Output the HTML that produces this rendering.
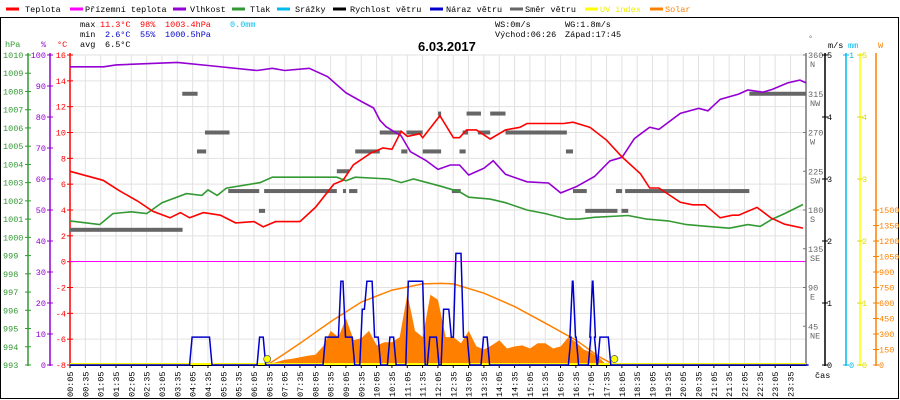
<!DOCTYPE html>
<html><head><meta charset="utf-8"><style>
html,body{margin:0;padding:0;background:#fff;}
svg{display:block;font-family:"Liberation Mono",monospace;font-size:8.5px;}
</style></head><body>
<svg id="c" width="900" height="400" viewBox="0 0 900 400">
<rect x="0.5" y="17.5" width="898" height="381" fill="none" stroke="#000"/>
<g id="grid"></g>
<g id="legend">
 <g><line x1="6" y1="9" x2="19" y2="9" stroke="#f00" stroke-width="3"/><text x="25" y="12">Teplota</text></g>
 <g><line x1="70" y1="9" x2="83" y2="9" stroke="#f0f" stroke-width="3"/><text x="85" y="12">Přízemní teplota</text></g>
 <g><line x1="173" y1="9" x2="186" y2="9" stroke="#9400d3" stroke-width="3"/><text x="190" y="12">Vlhkost</text></g>
 <g><line x1="232" y1="9" x2="245" y2="9" stroke="#339933" stroke-width="3"/><text x="250" y="12">Tlak</text></g>
 <g><line x1="277" y1="9" x2="290" y2="9" stroke="#00bbee" stroke-width="3"/><text x="295" y="12">Srážky</text></g>
 <g><line x1="333" y1="9" x2="346" y2="9" stroke="#000" stroke-width="3"/><text x="350" y="12">Rychlost větru</text></g>
 <g><line x1="430" y1="9" x2="443" y2="9" stroke="#0000cc" stroke-width="3"/><text x="446" y="12">Náraz větru</text></g>
 <g><line x1="510" y1="9" x2="523" y2="9" stroke="#666" stroke-width="3"/><text x="525" y="12">Směr větru</text></g>
 <g><line x1="585" y1="9" x2="598" y2="9" stroke="#ff0" stroke-width="3"/><text x="600" y="12" fill="#ee0">UV index</text></g>
 <g><line x1="650" y1="9" x2="663" y2="9" stroke="#ff8000" stroke-width="3"/><text x="665" y="12" fill="#ff8000">Solar</text></g>
</g>
<g>
 <text x="80" y="27">max</text><text x="100" y="27" fill="#f00">11.3°C</text><text x="140" y="27" fill="#f00">98%</text><text x="165" y="27" fill="#f00">1003.4hPa</text><text x="230" y="27" fill="#00bbee">0.0mm</text>
 <text x="80" y="37">min</text><text x="105" y="37" fill="#0000cc">2.6°C</text><text x="140" y="37" fill="#0000cc">55%</text><text x="165" y="37" fill="#0000cc">1000.5hPa</text>
 <text x="80" y="47">avg</text><text x="105" y="47">6.5°C</text>
 <text x="495" y="27">WS:0m/s</text><text x="565" y="27">WG:1.8m/s</text>
 <text x="495" y="37">Východ:06:26</text><text x="565" y="37">Západ:17:45</text>
</g>
<text x="418" y="51" font-size="13" font-weight="bold" font-family="Liberation Sans, sans-serif">6.03.2017</text>
<g id="axes"></g>
<g id="marks"></g>
</svg>
<script>
// ---- data ----
const tempTimes=[0,1.08,1.6,2.2,2.7,3.26,3.6,3.9,4.35,4.9,5.4,6.0,6.3,6.7,7.5,8.0,8.6,8.9,9.24,9.8,10.2,10.5,10.8,11.0,11.4,11.5,11.8,12.06,12.5,12.7,12.93,13.25,13.7,14.2,14.67,14.9,16.1,16.4,16.95,17.5,18.0,18.6,18.9,19.2,19.9,20.3,20.7,21.2,21.6,21.8,22.4,22.85,23.3,23.9];
const tempVals=[7.0,6.3,5.5,4.7,3.9,3.4,3.8,3.4,3.8,3.6,3.0,3.1,2.7,3.1,3.1,4.2,6.0,6.3,7.5,8.4,8.8,8.7,10.1,9.7,9.9,9.6,10.5,11.3,9.6,9.6,10.2,10.2,9.5,10.2,10.4,10.7,10.7,10.8,10.4,9.4,8.1,6.8,5.7,5.7,4.6,4.4,4.4,3.4,3.6,3.6,4.2,3.4,2.9,2.6];
const humTimes=[0,1.1,1.5,3.5,4.5,6.1,6.6,7.0,7.8,8.4,9.0,9.5,9.9,10.1,10.3,10.8,11.1,11.6,12.0,12.4,12.7,13.0,13.5,13.8,14.2,14.9,15.6,16.0,16.5,17.1,17.6,18.0,18.4,18.9,19.2,19.9,20.5,20.8,21.2,21.8,22.1,22.6,22.9,23.4,23.8,24];
const humVals=[96.2,96.2,96.8,97.6,96.6,95,95.7,95,95.7,93,87.8,85,82.9,79,76.9,73.9,68.8,66,63.1,64.5,64.5,61.3,63.5,65.9,61.5,59.1,58.7,55.5,57.5,60.8,65.8,67,73,76.7,76,81.2,82.8,82,85.7,87.4,88.7,88,88.9,91,91.9,91];
const presTimes=[0,0.97,1.4,2.0,2.5,3.0,3.8,4.3,4.5,4.8,5.1,6.2,6.6,7.6,8.7,9.0,9.3,10.4,10.8,11.2,12.1,12.7,13.0,13.7,14.2,14.9,15.5,16.2,16.6,17.1,18.2,18.8,19.5,20.1,20.8,21.5,22.1,22.5,22.9,23.3,23.9];
const presVals=[1000.9,1000.7,1001.3,1001.4,1001.3,1001.9,1002.4,1002.3,1002.6,1002.3,1002.7,1003.0,1003.3,1003.3,1003.3,1003.1,1003.3,1003.2,1003.0,1003.2,1002.8,1002.5,1002.2,1002.1,1001.9,1001.5,1001.3,1001.0,1001.0,1001.1,1001.2,1001.0,1000.9,1000.7,1000.6,1000.5,1000.7,1000.6,1001.0,1001.3,1001.8];
const dirStart=[0,3.66,4.14,4.4,5.16,6.16,6.33,8.7,8.9,9.1,9.3,10.1,10.8,10.97,11.5,12.0,12.45,12.7,12.8,12.93,13.3,13.7,14.2,16.17,16.4,16.8,17.8,17.98,18.1,22.15];
const dirEnd=  [3.67,4.16,4.44,5.2,6.17,6.36,8.7,9.1,9.0,9.37,10.1,10.8,11.0,11.5,12.1,12.1,12.74,12.9,12.98,13.4,13.7,14.2,16.2,16.4,16.85,17.85,18.0,18.2,22.15,24];
const dirVals= [157,315,248,270,202,179,202,225,202,202,248,270,248,270,248,292,202,248,270,292,270,292,270,248,202,179,202,179,202,315];
const gustTimes=[0,3.9,4.55,6.1,6.3,8.25,8.75,8.9,9.2,9.45,9.6,9.85,10.05,10.35,10.55,10.95,11.5,11.65,11.95,12.1,12.35,12.5,12.75,12.95,13.4,13.6,16.25,16.3,16.4,16.5,16.9,16.95,17.05,17.1,17.2,17.55,24];
const gustVals=[0,0.45,0,0.45,0,0.45,1.35,0.45,0,0.9,1.35,0.45,0,0.45,0,1.35,0,0.45,0,0.9,0.45,1.8,0.45,0,0.45,0,0.45,1.35,0.45,0,0.45,1.35,0.45,0,0.45,0,0];
const solarTimes=[6.4,6.75,7.0,7.25,7.5,7.75,8.0,8.25,8.5,8.75,9.0,9.25,9.5,9.75,10.0,10.25,10.5,10.75,11.0,11.25,11.5,11.75,12.0,12.25,12.5,12.75,13.0,13.25,13.5,13.75,14.0,14.25,14.5,14.75,15.0,15.25,15.5,15.75,16.0,16.25,16.5,16.75,17.0,17.25,17.5];
const solarVals=[0,30,50,60,75,90,100,180,330,270,450,240,260,330,190,220,220,270,690,330,270,680,630,270,270,210,330,180,150,190,240,160,180,190,160,210,210,160,180,270,220,150,120,70,0];
const clearTimes=[6.43,7.0,7.5,8.5,9.5,10.5,11.5,12.1,12.5,13.5,14.5,15.5,16.5,17.25,17.75];
const clearVals=[0,110,210,420,610,725,785,790,785,695,565,405,240,80,0];
const sunTimes=[6.43,17.75];
const tempTicks=[16,14,12,10,8,6,4,2,0,-2,-4,-6,-8];
const humTicks=[100,90,80,70,60,50,40,30,20,10,0];
const presTicks=[1010,1009,1008,1007,1006,1005,1004,1003,1002,1001,1000,999,998,997,996,995,994,993];
const dirTicks=[360,315,270,225,180,135,90,45];
const dirNames=["N","NW","W","SW","S","SE","E","NE"];
const windTicks=[5,4,3,2,1,0];
const solarTicks=[1500,1350,1200,1050,900,750,600,450,300,150,0];
const timeLabels=[];for(let h=0;h<24;h++){const hh=(h<10?"0":"")+h;timeLabels.push(hh+":05",hh+":35");}

// ---- scales ----
const X=t=>70+t*30.67;
const yT=v=>365-(v+8)*310/24;
const yH=v=>365-v*3.1;
const yP=v=>365-(v-993)*310/17;
const yD=v=>365-v*310/360;
const yW=v=>365-v*62;
const yS=v=>365-v*0.1033;
const NS="http://www.w3.org/2000/svg";
function mk(tag,attrs,parent){const e=document.createElementNS(NS,tag);for(const k in attrs)e.setAttribute(k,attrs[k]);parent.appendChild(e);return e;}
const grid=document.getElementById('grid'),axes=document.getElementById('axes'),marks=document.getElementById('marks');

for(const v of tempTicks){const l=mk('line',{x1:70,x2:806,y1:yT(v),y2:yT(v),stroke:'#e3e0e0'},grid);

}
timeLabels.forEach((s,i)=>{const x=70+15.33*i;const l=mk('line',{x1:x,x2:x,y1:55,y2:365,stroke:'#e3e0e0'},grid);


const tk=mk('line',{x1:x,x2:x,y1:365,y2:368,stroke:'#000'},axes);


const t=mk('text',{transform:`translate(${x+3},397) rotate(-90)`},axes);t.textContent=s;

});

function vline(x,c,name){const l=mk('line',{x1:x,x2:x,y1:53,y2:366,stroke:c,'stroke-width':1.5},axes);

}
vline(28,'#339933','pressure-axis');vline(50,'#9400d3','humidity-axis');vline(70,'#f00','temperature-axis');
vline(806,'#777','direction-axis');vline(825,'#000','wind-axis');vline(846,'#00bbee','rain-axis');vline(860,'#ff0','uv-axis');vline(876,'#ff8000','solar-axis');
const xa=mk('line',{x1:70,x2:806,y1:365.5,y2:365.5,stroke:'#000'},axes);


function lab(x,y,s,c,anchor,name){const t=mk('text',{x:x,y:y,fill:c,'text-anchor':anchor||'start'},axes);t.textContent=s;

return t;}
function tick(x1,x2,y,c){const l=mk('line',{x1:x1,x2:x2,y1:y,y2:y,stroke:c},axes);

}
lab(5,47,'hPa','#339933','start','pressure-axis-title');lab(41,47,'%','#9400d3','start','humidity-axis-title');lab(57,47,'°C','#f00','start','temperature-axis-title');
for(const v of presTicks){tick(25,31,yP(v),'#339933');lab(3,yP(v)+3,String(v),'#339933','start','pressure-tick-label');}
for(const v of humTicks){tick(47,53,yH(v),'#9400d3');lab(46,yH(v)+3,String(v),'#9400d3','end','humidity-tick-label');}
for(const v of tempTicks){tick(67,73,yT(v),'#f00');lab(66,yT(v)+3,String(v),'#f00','end','temperature-tick-label');}
lab(808,41,'°','#777','start','direction-axis-title');lab(828,48,'m/s','#000','start','wind-axis-title');lab(848,48,'mm','#00bbee','start','rain-axis-title');lab(878,48,'W','#ff8000','start','solar-axis-title');
dirTicks.forEach((v,i)=>{tick(803,806,yD(v),'#777');lab(808,yD(v)+3,String(v),'#666','start','direction-tick-label');lab(810,yD(v)+12,dirNames[i],'#666','start','direction-name-label');});
for(const v of windTicks){tick(822,828,yW(v),'#000');lab(827,yW(v)+3,String(v),'#000','start','wind-tick-label');
tick(857,863,yW(v),'#dd0');lab(862,yW(v)+3,String(v),'#dd0','start','uv-tick-label');}
tick(843,849,55,'#00bbee');lab(849,58,'1','#00bbee','start','rain-tick-label');tick(843,849,365,'#00bbee');lab(849,368,'0','#00bbee','start','rain-tick-label');
for(const v of solarTicks){tick(873,879,yS(v),'#ff8000');lab(879,yS(v)+3,String(v),'#ff8000','start','solar-tick-label');}
lab(815,378,'čas','#000','start','x-axis-title');

let d='M'+X(solarTimes[0])+' 365';solarTimes.forEach((t,i)=>d+=' L'+X(t).toFixed(1)+' '+yS(solarVals[i]).toFixed(1));d+=' L'+X(solarTimes[solarTimes.length-1])+' 365Z';
const sa=mk('path',{d:d,fill:'#ff8000'},marks);


function line(ts,vs,sc,c,w,name){const p=mk('polyline',{points:ts.map((t,i)=>X(t).toFixed(1)+','+sc(vs[i]).toFixed(1)).join(' '),fill:'none',stroke:c,'stroke-width':w},marks);

}
line(clearTimes,clearVals,yS,'#ff8000',1.5,'solar-clear-sky-line');
const ml=mk('line',{x1:70,x2:806,y1:Math.floor(yT(0))+0.5,y2:Math.floor(yT(0))+0.5,stroke:'#ff00ff'},marks);


const uv=mk('line',{x1:70,x2:806,y1:364,y2:364,stroke:'#ff0','stroke-width':2},marks);


dirStart.forEach((s,i)=>{const r=mk('rect',{x:X(s),y:yD(dirVals[i])-2,width:Math.max(2,X(dirEnd[i])-X(s)),height:4,fill:'#666'},marks);

});
line(presTimes,presVals,yP,'#339933',1.6,'pressure-line');
line(humTimes,humVals,yH,'#9400d3',1.6,'humidity-line');
line(tempTimes,tempVals,yT,'#f00',1.6,'temperature-line');
let g='M'+X(gustTimes[0])+' '+yW(gustVals[0]);for(let i=1;i<gustTimes.length;i++){g+=' L'+X(gustTimes[i]).toFixed(1)+' '+yW(gustVals[i-1]).toFixed(1)+' L'+(X(gustTimes[i])+2.5).toFixed(1)+' '+yW(gustVals[i]).toFixed(1);}
const gp=mk('path',{d:g,fill:'none',stroke:'#0000cc','stroke-width':1.5},marks);


for(const t of sunTimes){const c=mk('circle',{cx:X(t),cy:359,r:3.5,fill:'#ff0',stroke:'#555','stroke-width':0.7},marks);

}
</script>
</body></html>
